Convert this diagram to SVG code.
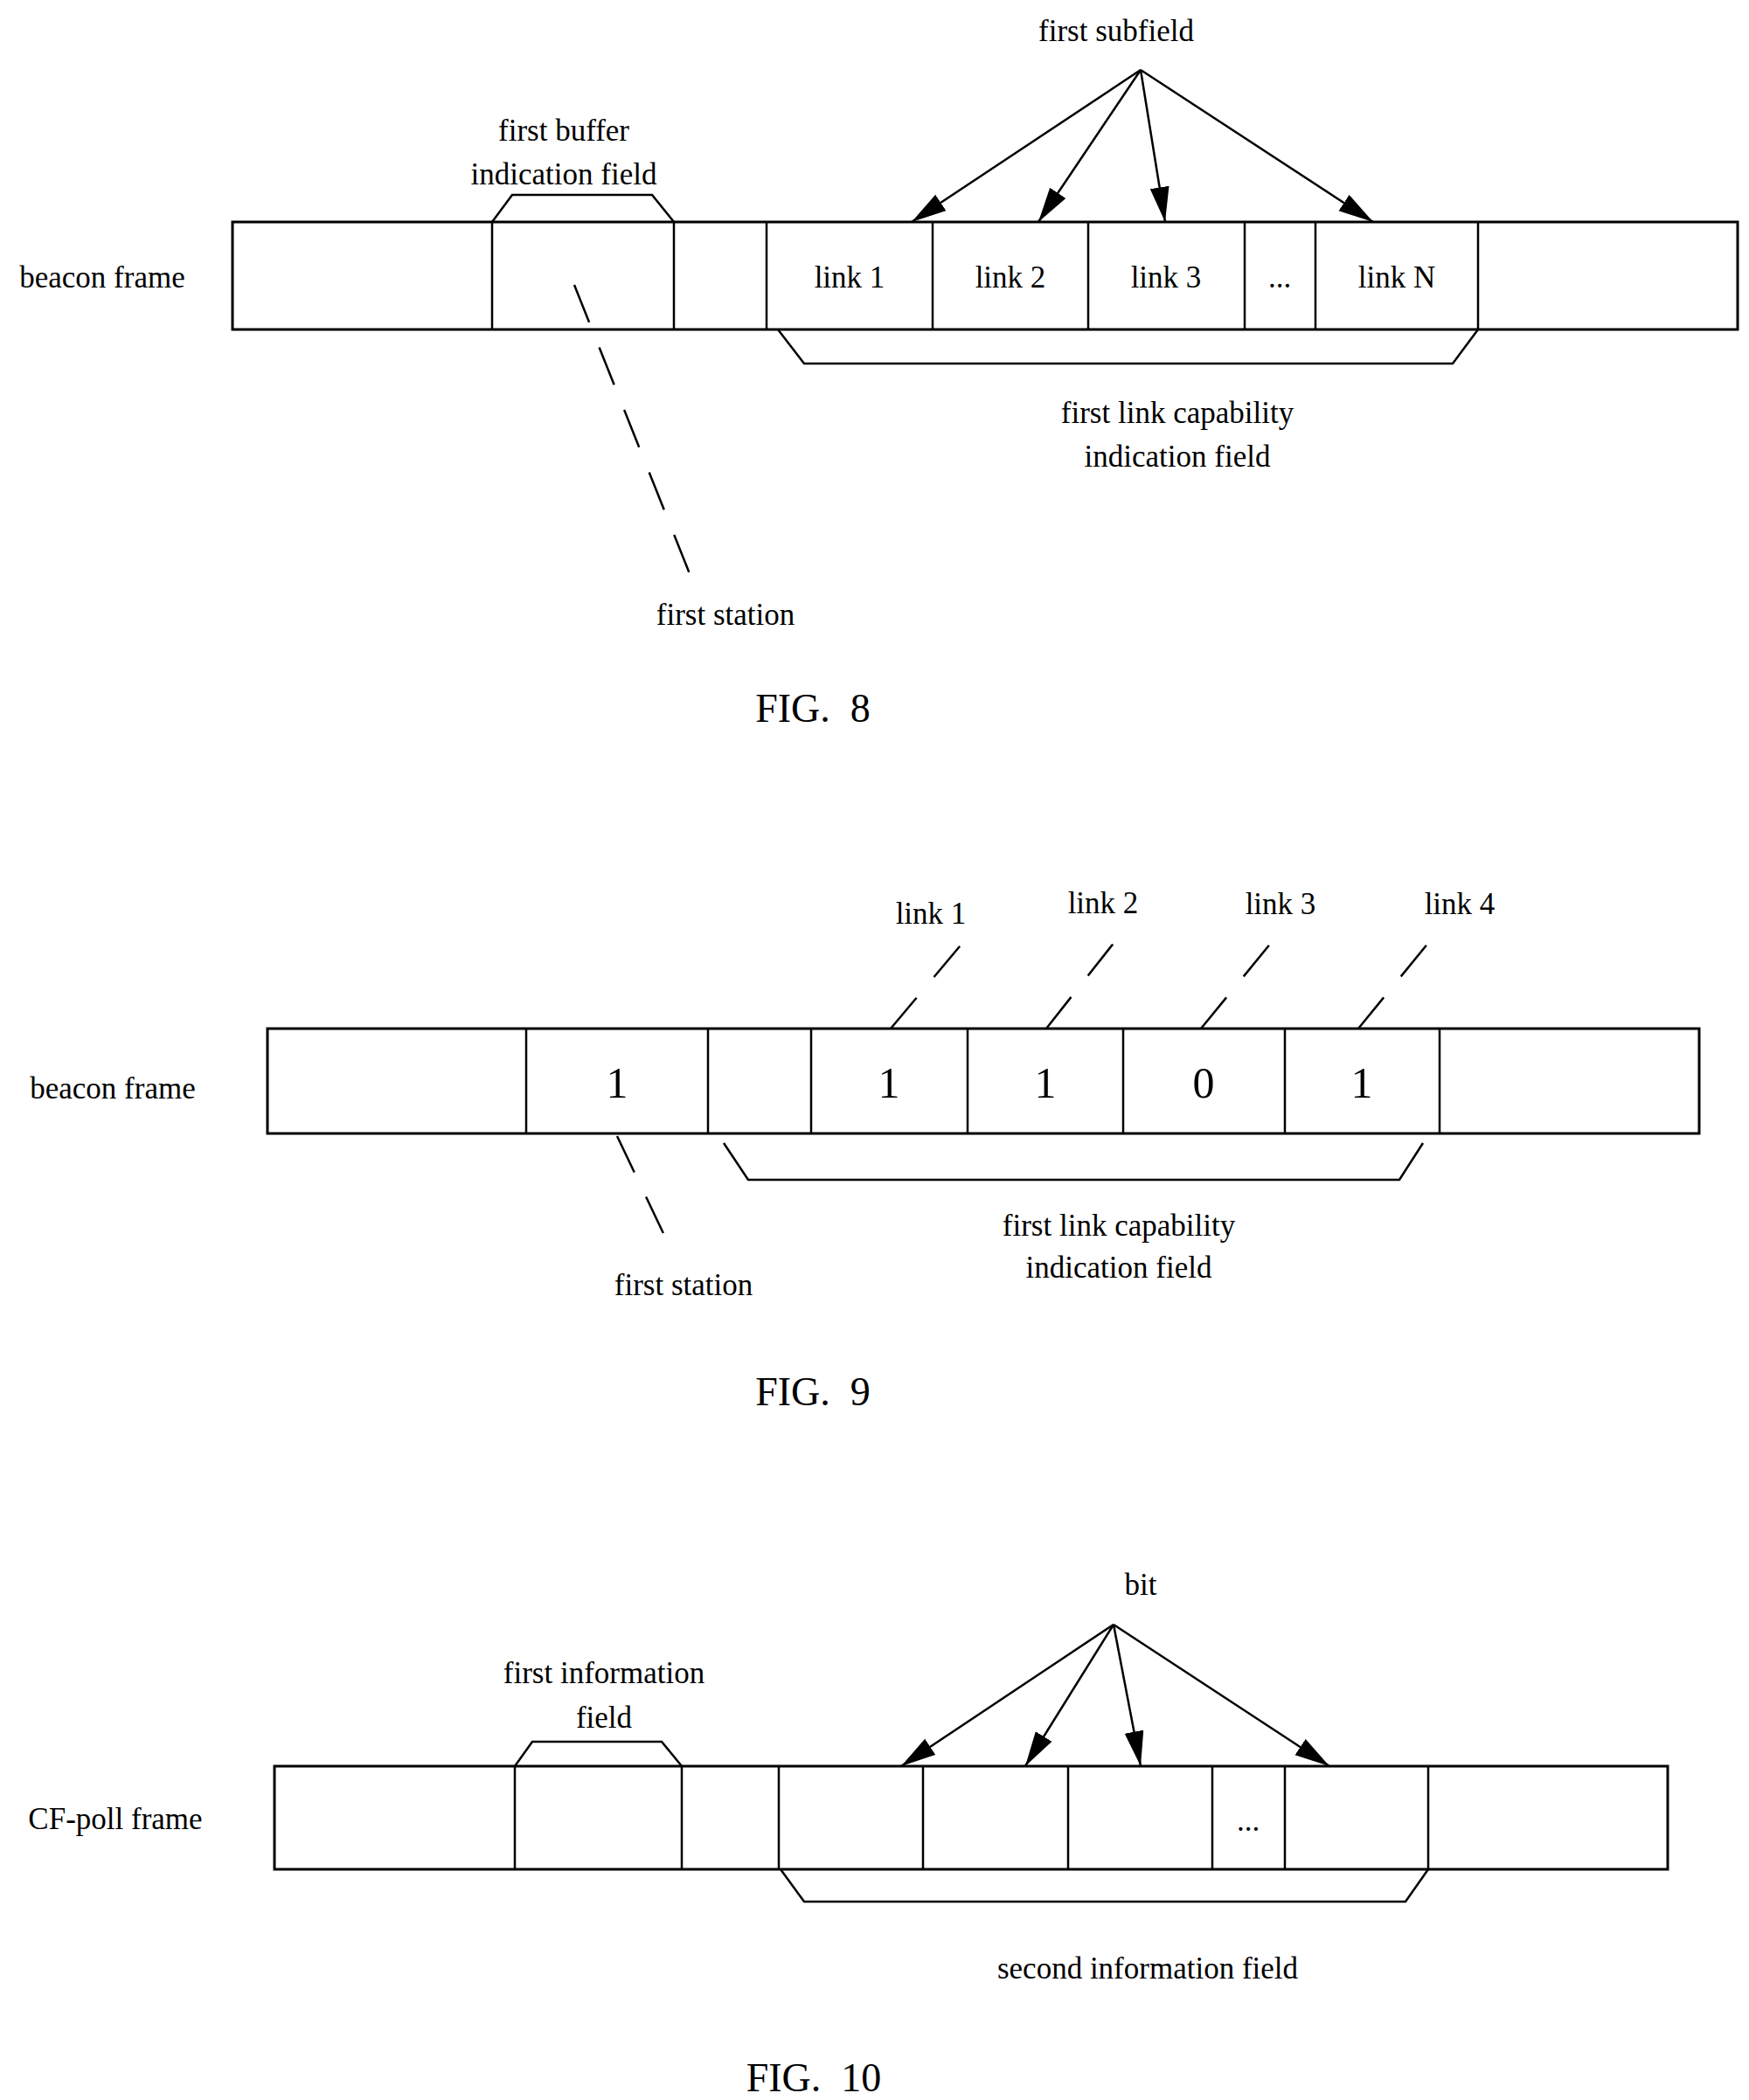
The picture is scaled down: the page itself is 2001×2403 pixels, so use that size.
<svg xmlns="http://www.w3.org/2000/svg" width="2001" height="2403" viewBox="0 0 2001 2403">
<style>
text{font-family:"Liberation Serif","Times New Roman",serif;font-size:35px;fill:#000;text-anchor:middle}
.big{font-size:46px;white-space:pre}
.dig{font-size:50px}
.box{fill:#fff;stroke:#000;stroke-width:3}
.ln{fill:none;stroke:#000;stroke-width:2.5}
.dash{fill:none;stroke:#000;stroke-width:2.5;stroke-dasharray:46 31}
.arr{fill:none;stroke:#000;stroke-width:2.5;marker-end:url(#ah)}
</style>
<defs>
<marker id="ah" markerUnits="userSpaceOnUse" markerWidth="42" markerHeight="24" refX="40" refY="11" orient="auto">
<path d="M0,0 L40,11 L0,22 Z" fill="#000"/>
</marker>
</defs>
<rect width="2001" height="2403" fill="#fff"/>

<g id="fig8">
<text x="117" y="329">beacon frame</text>
<rect class="box" x="266" y="254" width="1722" height="123"/>
<path class="ln" d="M563,254V377M771,254V377M877,254V377M1067,254V377M1245,254V377M1424,254V377M1505,254V377M1691,254V377"/>
<text x="972" y="329">link 1</text>
<text x="1156" y="329">link 2</text>
<text x="1334" y="329">link 3</text>
<text x="1464" y="329">...</text>
<text x="1598" y="329">link N</text>
<path class="ln" d="M563,254L586,223H746L771,254"/>
<text x="645" y="161">first buffer</text>
<text x="645" y="211">indication field</text>
<path class="ln" d="M890,377L920,416H1662L1691,377"/>
<text x="1347" y="484">first link capability</text>
<text x="1347" y="534">indication field</text>
<text x="830" y="715">first station</text>
<text x="1277" y="47">first subfield</text>
<text class="big" x="930" y="826">FIG.  8</text>
</g>
<g id="fig8-connectors">
<path class="dash" d="M657,326L790,659"/>
<path class="arr" d="M1305,80L1043,254"/>
<path class="arr" d="M1305,80L1188,254"/>
<path class="arr" d="M1305,80L1333,254"/>
<path class="arr" d="M1305,80L1571,254"/>
</g>

<g id="fig9">
<text x="129" y="1257">beacon frame</text>
<rect class="box" x="306" y="1177" width="1638" height="120"/>
<path class="ln" d="M602,1177V1297M810,1177V1297M928,1177V1297M1107,1177V1297M1285,1177V1297M1470,1177V1297M1647,1177V1297"/>
<text class="dig" x="706" y="1256">1</text>
<text class="dig" x="1017" y="1256">1</text>
<text class="dig" x="1196" y="1256">1</text>
<text class="dig" x="1377" y="1256">0</text>
<text class="dig" x="1558" y="1256">1</text>
<text x="1065" y="1057">link 1</text>
<text x="1262" y="1045">link 2</text>
<text x="1465" y="1046">link 3</text>
<text x="1670" y="1046">link 4</text>
<path class="ln" d="M828,1308L856,1350H1601L1628,1308"/>
<text x="1280" y="1414">first link capability</text>
<text x="1280" y="1462">indication field</text>
<text x="782" y="1482">first station</text>
<text class="big" x="930" y="1608">FIG.  9</text>
</g>
<g id="fig9-connectors">
<path class="dash" d="M1019,1177L1103,1077"/>
<path class="dash" d="M1197,1177L1279,1073"/>
<path class="dash" d="M1374,1177L1459,1073"/>
<path class="dash" d="M1554,1177L1639,1073"/>
<path class="dash" d="M706,1300L765,1424"/>
</g>

<g id="fig10">
<text x="132" y="2093">CF-poll frame</text>
<rect class="box" x="314" y="2021" width="1594" height="118"/>
<path class="ln" d="M589,2021V2139M780,2021V2139M891,2021V2139M1056,2021V2139M1222,2021V2139M1387,2021V2139M1470,2021V2139M1634,2021V2139"/>
<text x="1428" y="2095">...</text>
<path class="ln" d="M589,2021L609,1993H757L780,2021"/>
<text x="691" y="1926">first information</text>
<text x="691" y="1977">field</text>
<text x="1305" y="1825">bit</text>
<path class="ln" d="M893,2139L920,2176H1608L1634,2139"/>
<text x="1313" y="2264">second information field</text>
<text class="big" x="931" y="2393">FIG.  10</text>
</g>
<g id="fig10-connectors">
<path class="arr" d="M1274,1859L1031,2021"/>
<path class="arr" d="M1274,1859L1173,2021"/>
<path class="arr" d="M1274,1859L1305,2021"/>
<path class="arr" d="M1274,1859L1521,2021"/>
</g>
</svg>
